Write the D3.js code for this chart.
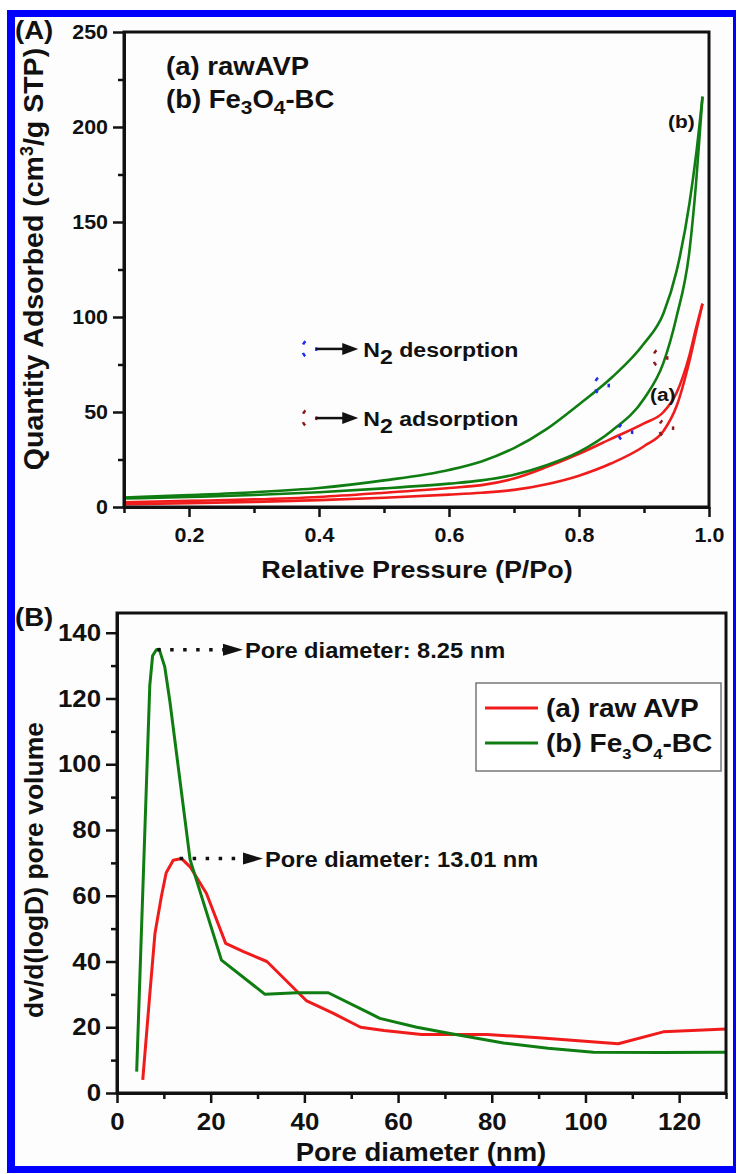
<!DOCTYPE html>
<html>
<head>
<meta charset="utf-8">
<script src="https://cdn.jsdelivr.net/npm/d3@7"></script>
<style>
  body { margin: 0; background: #fff; }
  text { font-family: Arial, "Liberation Sans", sans-serif; font-weight: bold; fill: #111; }
</style>
</head>
<body>
<div id="chart"></div>
<script>
// ---- DATA: (A) N2 isotherms ----
const pressure       = [0.1, 0.2, 0.3, 0.4, 0.5, 0.6, 0.65, 0.7, 0.75, 0.8, 0.85, 0.9, 0.93, 0.95, 0.97, 0.98, 0.99];
const feDesorption   = [5, 6.3, 7.8, 10, 14, 19.5, 24, 31, 41, 54, 68, 86, 102, 124, 160, 185, 216];
const feAdsorption   = [4.5, 5.3, 6.3, 7.8, 9.8, 12.3, 14, 17, 22, 29, 40, 57, 76, 100, 135, 170, 216];
const rawDesorption  = [2.5, 3.2, 4, 5.3, 7.5, 10, 11.5, 15, 21, 28, 36, 44, 50, 60, 80, 94, 107];
const rawAdsorption  = [1.5, 2, 2.7, 3.6, 4.9, 6.5, 7.5, 9, 12, 16.5, 23, 32, 40, 53, 77, 92, 107];
const xTicksA = [0.2, 0.4, 0.6, 0.8, 1.0];
const xMinorA = [0.1, 0.3, 0.5, 0.7, 0.9];
const yTicksA = [0, 50, 100, 150, 200, 250];
const yMinorA = [25, 75, 125, 175, 225];

// ---- DATA: (B) pore size distribution ----
const rawPoreD = [5.5, 7, 8.1, 9.5, 10.5, 12, 13.8, 15.6, 19.1, 23.2, 27, 32, 40.5, 46.2, 52, 57, 65, 79, 90, 107, 116.6, 130];
const rawPoreV = [4, 30, 48.5, 60, 67, 70.8, 71.3, 68.8, 60.7, 45.5, 43, 40, 28, 24.2, 20, 19, 17.8, 17.8, 16.8, 15, 18.6, 19.5];
const fePoreD  = [4.2, 7.0, 7.6, 8.4, 9.0, 10.2, 11.3, 15.6, 22.3, 31.6, 38.4, 45.1, 54, 56.1, 64, 71.1, 82.5, 92, 101.7, 116, 130];
const fePoreV  = [6.5, 124, 133, 134.8, 135, 129.6, 119, 71, 40.4, 30, 30.5, 30.5, 24.2, 22.7, 20, 18.1, 15.2, 13.6, 12.4, 12.3, 12.4];
const xTicksB = [0, 20, 40, 60, 80, 100, 120];
const xMinorB = [10, 30, 50, 70, 90, 110, 130];
const yTicksB = [0, 20, 40, 60, 80, 100, 120, 140];
const yMinorB = [10, 30, 50, 70, 90, 110, 130];

// peaks marked in (B)
const peaks = [
  { d: 9.0, v: 134.8, label: "Pore diameter: 8.25 nm", tip: 243 },
  { d: 13.8, v: 71.3, label: "Pore diameter: 13.01 nm", tip: 263 }
];
// dashed branch markers in (A)
const branchMarks = [
  { p: 0.835, q: 64, color: "#1f2cf0" },
  { p: 0.871, q: 39.5, color: "#1f2cf0" },
  { p: 0.925, q: 78.5, color: "#8b1c1c" },
  { p: 0.934, q: 41.6, color: "#8b1c1c" }
];
const branchKey = [
  { p: 0.385, q: 83.2, color: "#1f2cf0", label: " desorption" },
  { p: 0.385, q: 46.8, color: "#8b1c1c", label: " adsorption" }
];

const RED = "#f01c1c", GREEN = "#0f7d12";
const SX = 1.1; // text in the figure is slightly wide
const MARK_DASH = "2,15,4,8.5,4,15,2,0"; // right, lower-left, upper-left bits of a dashed ring

const svg = d3.select("#chart").append("svg")
    .attr("width", 738)
    .attr("height", 1174);

// blue frame
svg.append("rect").attr("x", 7).attr("y", 10).attr("width", 729).attr("height", 1163).attr("fill", "#0000ff");
svg.append("rect").attr("x", 15).attr("y", 17).attr("width", 718).attr("height", 1149).attr("fill", "#fdfdfd");

function stretch(sel) {
    sel.each(function () {
        const t = d3.select(this);
        const x = +t.attr("x") || 0, y = +t.attr("y") || 0;
        t.attr("transform", `translate(${x},${y}) scale(${SX},1) translate(${-x},${-y})`);
    });
}

// text built from parts: [string, offsetDown, fontSize]
function richText(g, x, y, parts, size, anchor) {
    const t = g.append("text")
        .attr("x", x).attr("y", y)
        .attr("text-anchor", anchor || "start")
        .style("font-size", size + "px");
    let shift = 0;
    parts.forEach(p => {
        const s = t.append("tspan").text(p[0]);
        const off = p[1] || 0;
        if (p[2]) s.style("font-size", p[2] + "px");
        s.attr("dy", off - shift);
        shift = off;
    });
    return t;
}

function drawAxes(g, x, y, o) {
    const [x0, x1] = x.range(), [y0, y1] = y.range();
    g.append("rect")
        .attr("x", x0).attr("y", y1)
        .attr("width", x1 - x0).attr("height", y0 - y1)
        .attr("fill", "none").attr("stroke", "#111").attr("stroke-width", 3);

    const left = g.append("g").attr("transform", `translate(${x0},0)`)
        .call(d3.axisLeft(y).tickValues(o.yTicks).tickSize(11).tickPadding(5).tickSizeOuter(0));
    g.append("g").attr("transform", `translate(${x0},0)`)
        .call(d3.axisLeft(y).tickValues(o.yMinor).tickSize(6).tickFormat(""))
        .select(".domain").remove();
    const bottom = g.append("g").attr("transform", `translate(0,${y0})`)
        .call(d3.axisBottom(x).tickValues(o.xTicks).tickSize(10).tickPadding(o.pad).tickSizeOuter(0).tickFormat(o.fmt));
    g.append("g").attr("transform", `translate(0,${y0})`)
        .call(d3.axisBottom(x).tickValues(o.xMinor).tickSize(6).tickFormat(""))
        .select(".domain").remove();

    g.selectAll(".domain").attr("stroke", "#111").attr("stroke-width", 3);
    g.selectAll(".tick line").attr("stroke", "#111").attr("stroke-width", 2.5);
    [left, bottom].forEach(a => a.selectAll("text").style("font-size", o.font + "px").attr("fill", "#111").call(stretch));
}

function dashRing(g, cx, cy, color) {
    return g.append("ellipse")
        .attr("cx", cx).attr("cy", cy)
        .attr("rx", 7).attr("ry", 9)
        .attr("fill", "none").attr("stroke", color)
        .attr("stroke-width", 2.5).attr("stroke-dasharray", MARK_DASH);
}

// ================= (A) =================
const xA = d3.scaleLinear().domain([0.1, 1.0]).range([124, 709]);
const yA = d3.scaleLinear().domain([0, 250]).range([507, 32]);
const gA = svg.append("g");

const lineA = d3.line().x(d => xA(d[0])).y(d => yA(d[1])).curve(d3.curveMonotoneX);
[[rawAdsorption, RED], [rawDesorption, RED], [feAdsorption, GREEN], [feDesorption, GREEN]].forEach(([vals, c]) => {
    gA.append("path")
        .datum(pressure.map((p, i) => [p, vals[i]]))
        .attr("fill", "none")
        .attr("stroke", c)
        .attr("stroke-width", 2.6)
        .attr("d", lineA);
});

branchMarks.forEach(m => dashRing(gA, xA(m.p), yA(m.q), m.color));

branchKey.forEach(k => {
    const cx = xA(k.p), cy = yA(k.q);
    dashRing(gA, cx, cy, k.color);
    gA.append("line")
        .attr("x1", cx + 7).attr("x2", cx + 36).attr("y1", cy).attr("y2", cy)
        .attr("stroke", "#111").attr("stroke-width", 2.5);
    gA.append("path")
        .attr("d", `M${cx + 33},${cy - 6}L${cx + 49},${cy}L${cx + 33},${cy + 6}Z`)
        .attr("fill", "#111");
    richText(gA, cx + 54, cy + 8, [["N"], ["2", 7, 21], [k.label, 0]], 21).call(stretch);
});

richText(gA, 166, 75, [["(a) rawAVP"]], 25).call(stretch);
richText(gA, 166, 108, [["(b) Fe"], ["3", 6, 19], ["O"], ["4", 6, 19], ["-BC", 0]], 25).call(stretch);
richText(gA, 668, 128, [["(b)"]], 19).call(stretch);
richText(gA, 650, 401, [["(a)"]], 19).call(stretch);

drawAxes(gA, xA, yA, { xTicks: xTicksA, xMinor: xMinorA, yTicks: yTicksA, yMinor: yMinorA, font: 19.5, pad: 11, fmt: d3.format(".1f") });

richText(gA, 417, 578, [["Relative Pressure (P/Po)"]], 24.5, "middle").call(stretch);
gA.append("text")
    .attr("transform", "translate(43,259) rotate(-90)")
    .attr("text-anchor", "middle")
    .style("font-size", "28.5px")
    .call(t => {
        t.append("tspan").text("Quantity Adsorbed (cm");
        t.append("tspan").text("3").style("font-size", "18px").attr("dy", -10);
        t.append("tspan").text("/g STP)").attr("dy", 10);
    });
richText(gA, 15, 39, [["(A)"]], 25).call(stretch);

// ================= (B) =================
const xB = d3.scaleLinear().domain([0, 130]).range([117, 726]);
const yB = d3.scaleLinear().domain([0, 146]).range([1093, 613]);
const gB = svg.append("g");

const lineB = d3.line().x(d => xB(d[0])).y(d => yB(d[1]));
[[rawPoreD, rawPoreV, RED], [fePoreD, fePoreV, GREEN]].forEach(([ds, vs, c]) => {
    gB.append("path")
        .datum(ds.map((d, i) => [d, vs[i]]))
        .attr("fill", "none")
        .attr("stroke", c)
        .attr("stroke-width", 3)
        .attr("stroke-linejoin", "round")
        .attr("d", lineB);
});

peaks.forEach(pk => {
    const px = xB(pk.d), py = yB(pk.v);
    gB.append("line")
        .attr("x1", px - 2).attr("x2", pk.tip - 20).attr("y1", py).attr("y2", py)
        .attr("stroke", "#111").attr("stroke-width", 3.5)
        .attr("stroke-dasharray", "3.5,9.5");
    gB.append("path")
        .attr("d", `M${pk.tip - 20},${py - 6}L${pk.tip},${py}L${pk.tip - 20},${py + 6}Z`)
        .attr("fill", "#111");
    richText(gB, pk.tip + 2, py + 8, [[pk.label]], 21.5).call(stretch);
});

// legend
const leg = gB.append("g");
leg.append("rect")
    .attr("x", 476).attr("y", 683).attr("width", 245).attr("height", 88)
    .attr("fill", "#fff").attr("stroke", "#777").attr("stroke-width", 1.5);
[[RED, 708, [["(a) raw AVP"]]], [GREEN, 743, [["(b) Fe"], ["3", 7, 15], ["O", 0], ["4", 7, 15], ["-BC", 0]]]].forEach(([c, ly, parts]) => {
    leg.append("line").attr("x1", 485).attr("x2", 538).attr("y1", ly).attr("y2", ly)
        .attr("stroke", c).attr("stroke-width", 3);
    richText(leg, 546, ly + 9, parts, 25.5).call(stretch);
});

drawAxes(gB, xB, yB, { xTicks: xTicksB, xMinor: xMinorB, yTicks: yTicksB, yMinor: yMinorB, font: 23.5, pad: 10, fmt: d3.format("d") });

richText(gB, 421, 1161, [["Pore diameter (nm)"]], 25, "middle").call(stretch);
gB.append("text")
    .attr("transform", "translate(43,870) rotate(-90)")
    .attr("text-anchor", "middle")
    .style("font-size", "26.5px")
    .text("dv/d(logD) pore volume");
richText(gB, 15, 626, [["(B)"]], 25).call(stretch);
</script>
</body>
</html>
